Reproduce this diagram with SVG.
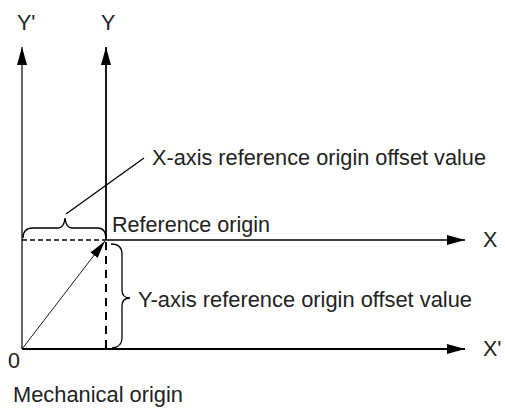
<svg xmlns="http://www.w3.org/2000/svg" width="505" height="408" viewBox="0 0 505 408">
<defs>
<marker id="ah" viewBox="0 0 18 10" refX="18" refY="5" markerWidth="18" markerHeight="10" markerUnits="userSpaceOnUse" orient="auto">
<path d="M0,0 L18,5 L0,10 z" fill="#000"/>
</marker>
<marker id="ahs" viewBox="0 0 18 9" refX="18" refY="4.5" markerWidth="18" markerHeight="9" markerUnits="userSpaceOnUse" orient="auto">
<path d="M0,0 L18,4.5 L0,9 z" fill="#000"/>
</marker>
</defs>
<style>
text{font-family:"Liberation Sans",Arial,sans-serif;font-size:21.5px;fill:#222}
.ax{stroke:#000;fill:none}
.br{stroke:#000;stroke-width:1.3;fill:none}
</style>
<g id="connectors">
<line id="yprime-axis" class="ax" x1="22" y1="349" x2="22" y2="47" stroke-width="1.2" marker-end="url(#ah)"/>
<line id="y-axis" class="ax" x1="106" y1="240" x2="106" y2="47" stroke-width="1.8" marker-end="url(#ah)"/>
<line id="x-axis" class="ax" x1="106" y1="240" x2="465" y2="240" stroke-width="1.3" marker-end="url(#ah)"/>
<line id="xprime-axis" class="ax" x1="22" y1="349" x2="465" y2="349" stroke-width="1.8" marker-end="url(#ah)"/>
<line class="ax" x1="22" y1="240" x2="106" y2="240" stroke-width="1.3" stroke-dasharray="5,3"/>
<line class="ax" x1="106" y1="242" x2="106" y2="349" stroke-width="2" stroke-dasharray="8,6"/>
<line class="ax" x1="22" y1="349" x2="105" y2="241" stroke="#222" stroke-width="0.9" marker-end="url(#ahs)"/>
<path class="br" d="M23,238 Q23,228 33,228 L58,228 Q64,228 65,218 Q66,228 72,228 L98,228 Q106,228 106,240"/>
<line class="ax" x1="66" y1="214" x2="144" y2="158" stroke-width="1.3"/>
<path class="br" d="M111,244 Q122,244 122,254 L122,290 Q122,298 130,298 Q122,298 122,306 L122,338 Q122,347 112,348"/>
</g>
<g id="labels">
<text x="17" y="30">Y'</text>
<text x="101" y="30">Y</text>
<text x="483" y="247">X</text>
<text x="483" y="356">X'</text>
<text x="8" y="368">0</text>
<text x="152" y="165" textLength="334" lengthAdjust="spacingAndGlyphs">X-axis reference origin offset value</text>
<text x="112" y="232" textLength="158" lengthAdjust="spacingAndGlyphs">Reference origin</text>
<text x="138" y="307" textLength="334" lengthAdjust="spacingAndGlyphs">Y-axis reference origin offset value</text>
<text x="13" y="402" textLength="170" lengthAdjust="spacingAndGlyphs">Mechanical origin</text>
</g>
</svg>
